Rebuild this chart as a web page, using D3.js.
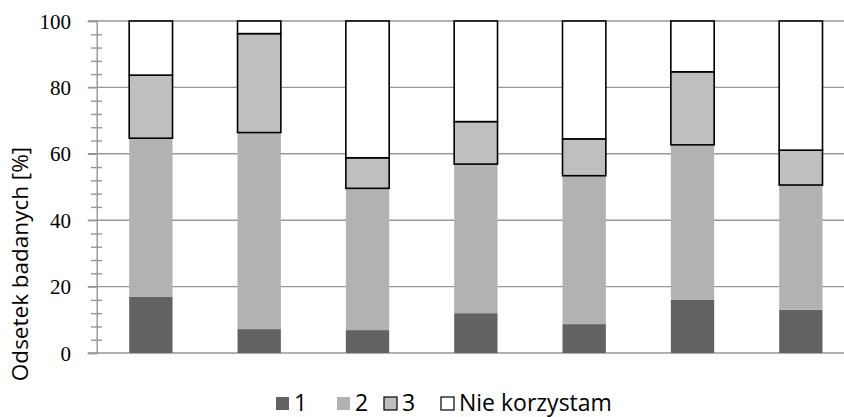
<!DOCTYPE html>
<html>
<head>
<meta charset="utf-8">
<script src="https://cdn.jsdelivr.net/npm/d3@7"></script>
<style>
  html, body { margin: 0; padding: 0; background: #fff; }
  svg { display: block; }
</style>
</head>
<body>
<div class="canvas"></div>
<script>
// bars, left to right (no category labels on the x axis)
const categories = ['a', 'b', 'c', 'd', 'e', 'f', 'g']
const seriesNames = ['1', '2', '3', 'Nie korzystam']
const ones = [17, 7.2, 6.9, 12, 8.7, 16, 13]
const twos = [47.7, 59.2, 42.7, 44.9, 44.7, 46.7, 37.6]
const threes = [19, 29.8, 9.2, 12.8, 11.1, 22, 10.5]
const notUsing = [16.3, 3.8, 41.2, 30.3, 35.5, 15.3, 38.9]
const majorTicks = [0, 20, 40, 60, 80, 100]

const width = 844
const height = 417
const fills = ['#626262', '#b2b2b2', '#bfbfbf', '#ffffff']
const strokes = [null, null, '#000', '#000']
const serif = '"Times New Roman", "Liberation Serif", "DejaVu Serif", Times, serif'
const sans = '"Open Sans", sans-serif'

const rows = categories.map((c, i) => ({
  cat: c,
  '1': ones[i], '2': twos[i], '3': threes[i], 'Nie korzystam': notUsing[i]
}))

const svg = d3.select('.canvas')
  .append('svg')
  .attr('width', width)
  .attr('height', height)

const x = d3.scaleBand()
  .domain(categories)
  .range([96.7, 855])
  .paddingInner(0.6)
  .paddingOuter(0.3)

const y = d3.scaleLinear()
  .domain([0, 100])
  .range([353, 21])

// gridlines
svg.append('g')
  .selectAll('line')
  .data(majorTicks)
  .join('line')
  .attr('x1', 88)
  .attr('x2', width)
  .attr('y1', d => y(d))
  .attr('y2', d => y(d))
  .attr('stroke', '#979797')
  .attr('stroke-width', 1.4)

// y axis lines and minor ticks crossing the axis
const yAxis = svg.append('g')
  .attr('transform', 'translate(96.7,0)')
  .call(d3.axisLeft(y).tickValues(majorTicks).tickSize(9).tickFormat(''))
yAxis.select('.domain').attr('stroke', '#979797').attr('stroke-width', 1.4)
yAxis.selectAll('.tick line').attr('stroke', '#979797').attr('stroke-width', 1.4)

const minorTicks = d3.range(0, 101, 4).filter(v => v % 20 !== 0)
const minorAxis = svg.append('g')
  .attr('transform', 'translate(102,0)')
  .call(d3.axisLeft(y).tickValues(minorTicks).tickSize(11).tickFormat(''))
minorAxis.select('.domain').remove()
minorAxis.selectAll('.tick line').attr('stroke', '#979797').attr('stroke-width', 1.4)

// tick labels
svg.append('g')
  .selectAll('text')
  .data(majorTicks)
  .join('text')
  .attr('x', 71)
  .attr('y', d => y(d))
  .attr('dy', '0.36em')
  .attr('text-anchor', 'end')
  .attr('font-family', serif)
  .attr('font-size', 21)
  .attr('fill', '#000')
  .text(d => d)

// stacked bars
const stacked = d3.stack().keys(seriesNames)(rows)

stacked.forEach((layer, k) => {
  svg.append('g')
    .selectAll('rect')
    .data(layer)
    .join('rect')
    .attr('x', d => x(d.data.cat))
    .attr('width', x.bandwidth())
    .attr('y', d => y(d[1]))
    .attr('height', d => y(d[0]) - y(d[1]))
    .attr('fill', fills[k])
    .attr('stroke', strokes[k] || 'none')
    .attr('stroke-width', 1.6)
})

// y title
svg.append('text')
  .attr('transform', 'translate(28,264) rotate(-90)')
  .attr('text-anchor', 'middle')
  .attr('font-family', sans)
  .attr('font-size', 22.5)
  .attr('fill', '#000')
  .text('Odsetek badanych [%]')

// legend
const legendX = [276, 337, 384, 441]
const legend = svg.append('g')
  .selectAll('g')
  .data(seriesNames)
  .join('g')
  .attr('transform', (d, i) => `translate(${legendX[i]},397)`)
legend.append('rect')
  .attr('width', 13)
  .attr('height', 13)
  .attr('fill', (d, i) => fills[i])
  .attr('stroke', (d, i) => strokes[i] || 'none')
  .attr('stroke-width', 1.2)
legend.append('text')
  .attr('x', 18)
  .attr('y', 14)
  .attr('font-family', sans)
  .attr('font-size', 23)
  .attr('fill', '#000')
  .text(d => d)
</script>
</body>
</html>
